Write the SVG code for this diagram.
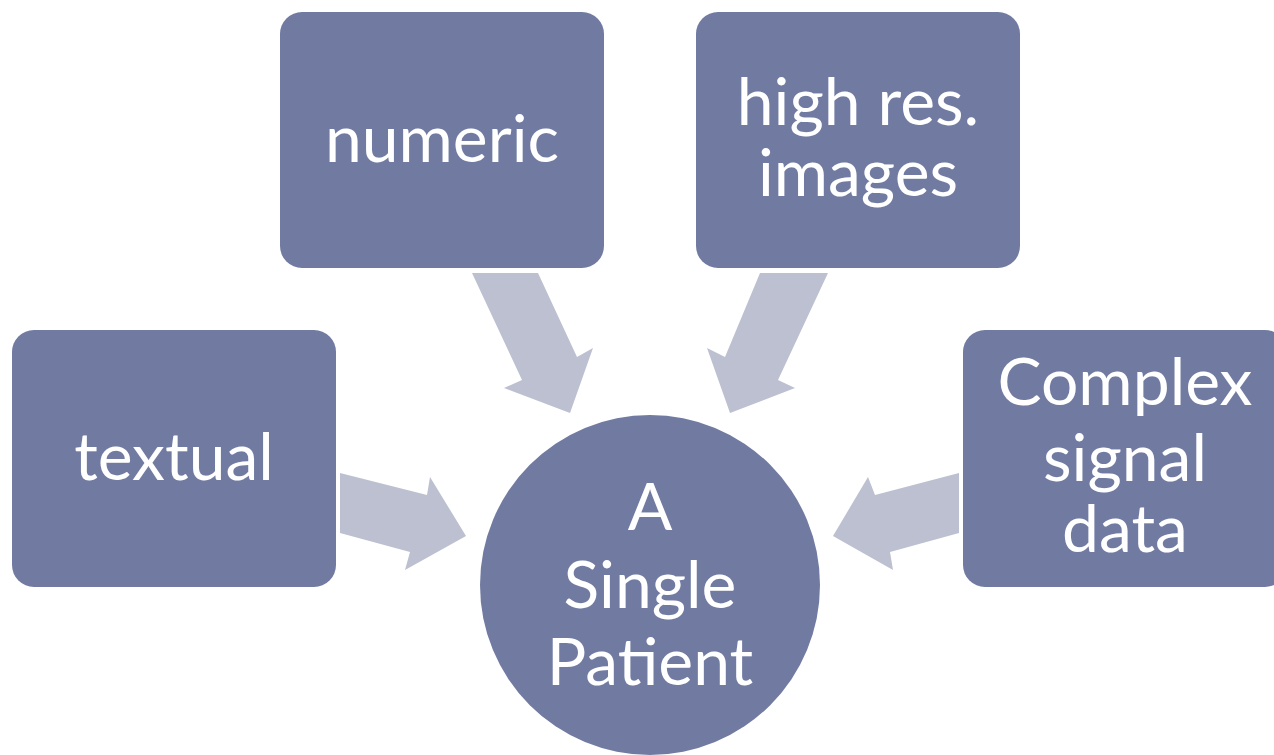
<svg xmlns="http://www.w3.org/2000/svg" width="1274" height="755" viewBox="0 0 1274 755">
<style>
.box{fill:#717BA2}
.arr{fill:#BCC0D0}
.t{fill:#FFFFFF;font-family:Lato,"Open Sans","Liberation Sans",sans-serif;font-size:66px;text-anchor:middle}
</style>
<rect width="1274" height="755" fill="#FFFFFF"/>
<g id="connectors">
<polygon class="arr" points="472,273 538,273 577,357 593,348 570,413 504,388 522,380"/>
<polygon class="arr" points="828,273 760,273 725,357 707,348 730,413 795,388 778,380"/>
<polygon class="arr" points="340,473 427,495 430,477 466,536 405,570 410,552 340,533"/>
<polygon class="arr" points="959,473 875,495 868,477 833,536 893,570 890,552 959,533"/>
</g>
<g id="node-numeric">
<rect class="box" x="280" y="12" width="324" height="256" rx="22"/>
<text class="t" x="442" y="162">numeric</text>
</g>
<g id="node-images">
<rect class="box" x="696" y="12" width="324" height="256" rx="22"/>
<text class="t" x="858" y="125">high res.</text>
<text class="t" x="858" y="196">images</text>
</g>
<g id="node-textual">
<rect class="box" x="12" y="330" width="324" height="257" rx="22"/>
<text class="t" x="174" y="480">textual</text>
</g>
<g id="node-complex">
<rect class="box" x="963" y="330" width="324" height="257" rx="22"/>
<text class="t" x="1125" y="405">Complex</text>
<text class="t" x="1125" y="481">signal</text>
<text class="t" x="1125" y="552">data</text>
</g>
<g id="node-patient">
<circle class="box" cx="650" cy="585" r="170"/>
<text class="t" x="650" y="530">A</text>
<text class="t" x="650" y="608">Single</text>
<text class="t" x="650" y="685">Patient</text>
</g>
</svg>
